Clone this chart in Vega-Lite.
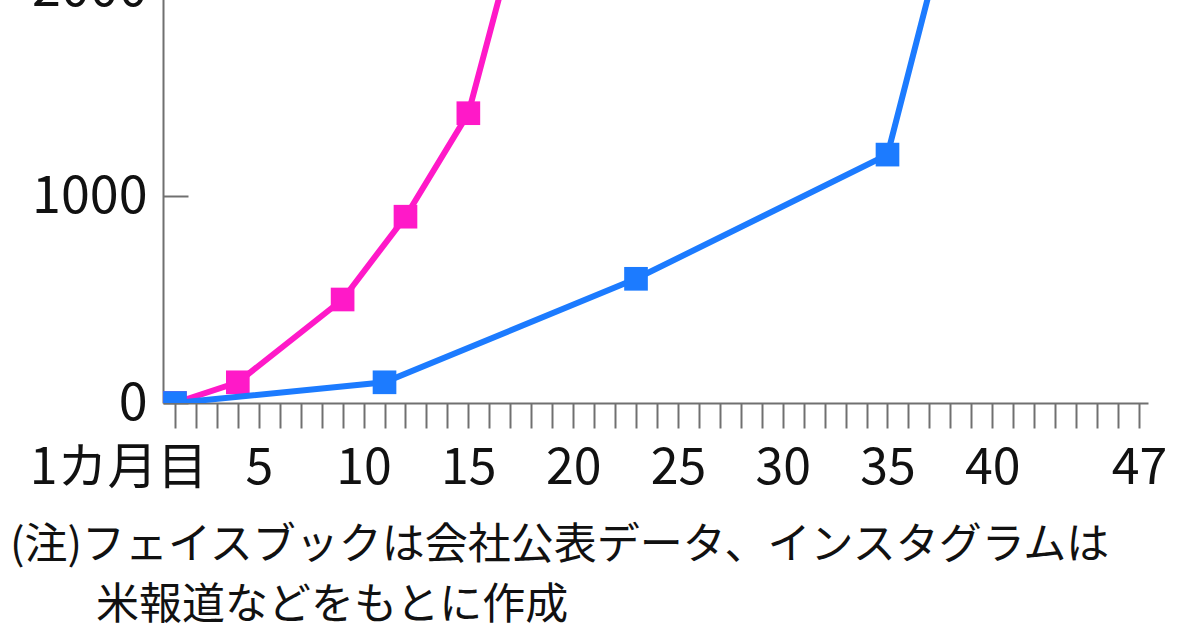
{
  "$schema": "https://vega.github.io/schema/vega-lite/v6.json",
  "width": 985,
  "height": 414,
  "autosize": {"type": "none"},
  "padding": {"left": 163, "top": -11, "right": 52, "bottom": 225},
  "background": "white",
  "config": {"view": {"stroke": null}, "font": "Noto Sans CJK JP"},
  "title": {
    "text": ["(注)フェイスブックは会社公表データ、インスタグラムは", "\u200b\u3000\u3000米報道などをもとに作成"],
    "orient": "bottom",
    "anchor": "start",
    "frame": "group",
    "font": "Noto Sans CJK JP",
    "fontSize": 43,
    "fontWeight": "normal",
    "color": "#111111",
    "lineHeight": 60,
    "dx": -153,
    "offset": 32
  },
  "data": {
    "values": [
      {"month": 1, "users": 0, "service": "インスタグラム"},
      {"month": 4, "users": 100, "service": "インスタグラム"},
      {"month": 9, "users": 500, "service": "インスタグラム"},
      {"month": 12, "users": 900, "service": "インスタグラム"},
      {"month": 15, "users": 1400, "service": "インスタグラム"},
      {"month": 17, "users": 2160, "service": "インスタグラム"},
      {"month": 1, "users": 0, "service": "フェイスブック"},
      {"month": 11, "users": 100, "service": "フェイスブック"},
      {"month": 23, "users": 600, "service": "フェイスブック"},
      {"month": 35, "users": 1200, "service": "フェイスブック"},
      {"month": 38, "users": 2380, "service": "フェイスブック"}
    ]
  },
  "encoding": {
    "x": {
      "field": "month",
      "type": "quantitative",
      "scale": {"domain": [0.43, 47.43], "nice": false, "zero": false},
      "axis": {
        "title": null,
        "grid": false,
        "values": [1,2,3,4,5,6,7,8,9,10,11,12,13,14,15,16,17,18,19,20,21,22,23,24,25,26,27,28,29,30,31,32,33,34,35,36,37,38,39,40,41,42,43,44,45,46,47],
        "labelExpr": "datum.value == 1 ? '1カ月目' : (((datum.value % 5 == 0 && datum.value <= 40) || datum.value == 47) ? datum.label : '')",
        "labelOverlap": false,
        "labelBound": false,
        "labelFlush": false,
        "labelAlign": {"condition": {"test": "datum.value == 1", "value": "right"}, "value": "center"},
        "labelOffset": {"condition": {"test": "datum.value == 1", "value": 32}, "value": 0},
        "labelFont": "Noto Sans CJK JP",
        "labelFontSize": 50,
        "labelColor": "#111111",
        "labelPadding": 15,
        "tickSize": 25,
        "tickWidth": 2,
        "tickColor": "#707070",
        "domainColor": "#707070",
        "domainWidth": 2
      }
    },
    "y": {
      "field": "users",
      "type": "quantitative",
      "scale": {"domain": [0, 2000], "nice": false},
      "axis": {
        "title": null,
        "grid": false,
        "values": [0, 1000, 2000],
        "format": "d",
        "labelFont": "Noto Sans CJK JP",
        "labelFontSize": 52,
        "labelColor": "#111111",
        "tickSize": -25,
        "labelPadding": 41,
        "tickWidth": 2,
        "tickColor": "#707070",
        "domainColor": "#707070",
        "domainWidth": 2
      }
    },
    "color": {
      "field": "service",
      "type": "nominal",
      "scale": {"domain": ["インスタグラム", "フェイスブック"], "range": ["#FF19C8", "#1C7BFF"]},
      "legend": null
    }
  },
  "layer": [
    {
      "transform": [{"filter": "datum.service == 'インスタグラム'"}],
      "layer": [
        {"mark": {"type": "line", "strokeWidth": 6, "clip": true}},
        {"mark": {"type": "square", "size": 560, "opacity": 1, "filled": true, "clip": true}}
      ]
    },
    {
      "transform": [{"filter": "datum.service == 'フェイスブック'"}],
      "layer": [
        {"mark": {"type": "line", "strokeWidth": 6, "clip": true}},
        {"mark": {"type": "square", "size": 560, "opacity": 1, "filled": true, "clip": true}}
      ]
    }
  ]
}
